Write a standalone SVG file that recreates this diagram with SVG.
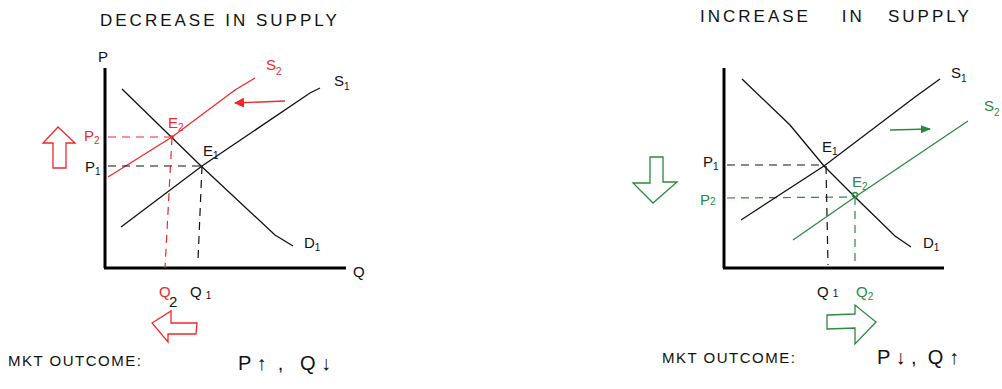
<svg xmlns="http://www.w3.org/2000/svg" width="1002" height="389" viewBox="0 0 1002 389">
<defs>
<style>
text{font-family:"Liberation Sans",Arial,sans-serif;fill:#111}
.t{font-size:17px;letter-spacing:3px}
.l{font-size:15px}
.o{font-size:15px;letter-spacing:1.5px}
.big{font-size:20px}
.s{font-size:10px}
.axis{stroke:#000;stroke-width:3;fill:none}
.ln{stroke:#111;stroke-width:1.3;fill:none}
.dk{stroke:#111;stroke-width:1.2;stroke-dasharray:8 6;fill:none}
.red{stroke:#f0282c;stroke-width:1.3;fill:none}
.rdash{stroke:#f0282c;stroke-width:1.2;stroke-dasharray:8 6;fill:none}
.grn{stroke:#2a8a3e;stroke-width:1.3;fill:none}
.gdash{stroke:#2a8a3e;stroke-width:1.2;stroke-dasharray:8 6;fill:none}
.rt{fill:#f0282c}
.gt{fill:#2a8a3e}
</style>
<marker id="ar" markerWidth="10" markerHeight="10" refX="9" refY="5" orient="auto" markerUnits="userSpaceOnUse"><path d="M0,0 L10,5 L0,10 Z" fill="#f0282c"/></marker>
<marker id="ag" markerWidth="10" markerHeight="10" refX="9" refY="5" orient="auto" markerUnits="userSpaceOnUse"><path d="M0,1 L10,5 L0,9 Z" fill="#2a8a3e"/></marker>
</defs>

<g id="left-title"><text class="t" x="100" y="26">DECREASE IN  SUPPLY</text></g>

<g id="left-axes">
<line class="axis" x1="105" y1="68" x2="105" y2="268"/>
<line class="axis" x1="104" y1="268" x2="346" y2="268"/>
<text class="l" x="98" y="62">P</text>
<text class="l" x="353" y="277">Q</text>
</g>

<g id="left-demand">
<polyline class="ln" points="122,89 200,165 275,235 293,246"/>
<text class="l" x="304" y="248">D<tspan class="s" dy="3">1</tspan></text>
</g>
<g id="left-s1">
<polyline class="ln" points="121,227 202,166 310,93 320,88"/>
<text class="l" x="334" y="86">S<tspan class="s" dy="4">1</tspan></text>
</g>
<g id="left-s2">
<polyline class="red" points="108,177 172,137 235,90 255,78"/>
<text class="l rt" x="266" y="70">S<tspan class="s" dy="5">2</tspan></text>
</g>

<g id="left-e2">
<circle cx="172" cy="137" r="1.8" fill="#f0282c"/>
<text class="l rt" x="168" y="128">E<tspan class="s" dy="3">2</tspan></text>
</g>
<g id="left-e1">
<text class="l" x="203" y="156">E<tspan class="s" dy="3">1</tspan></text>
</g>

<g id="left-p2"><text class="l rt" x="84" y="141">P<tspan class="s" dy="3">2</tspan></text></g>
<g id="left-p1"><text class="l" x="85" y="172">P<tspan class="s" dy="3">1</tspan></text></g>
<g id="left-q2"><text class="l rt" x="159" y="297">Q</text><text class="l" x="169" y="307">2</text></g>
<g id="left-q1"><text class="l" x="190" y="297">Q<tspan class="s" dx="4" dy="2">1</tspan></text></g>

<g id="connectors">
<line class="rdash" x1="108" y1="137" x2="172" y2="137"/>
<line class="dk" x1="108" y1="166" x2="202" y2="166"/>
<line class="rdash" x1="172" y1="137" x2="165" y2="268"/>
<line class="dk" x1="202" y1="166" x2="198" y2="260"/>
<line class="red" x1="285" y1="101" x2="235" y2="103" marker-end="url(#ar)"/>
<line class="dk" x1="727" y1="165" x2="824" y2="165"/>
<line class="gdash" x1="727" y1="198" x2="855" y2="197"/>
<line class="dk" x1="826" y1="166" x2="828" y2="265"/>
<line class="gdash" x1="855" y1="197" x2="855" y2="268"/>
<line class="grn" x1="890" y1="130" x2="930" y2="129" marker-end="url(#ag)"/>
</g>

<g id="left-up-arrow"><polygon class="red" points="58,127 43,143 53,143 53,168 66,168 66,143 75,143"/></g>
<g id="left-left-arrow"><polygon class="red" points="152,323 171,311 171,323 197,323 196,334 168,334 168,342"/></g>

<g id="left-outcome">
<text class="o" x="8" y="366">MKT OUTCOME:</text>
<text class="big" x="238" y="370" xml:space="preserve">P ↑  ,   Q ↓</text>
</g>

<g id="right-title"><text class="t" x="700" y="22" xml:space="preserve">INCREASE    IN   SUPPLY</text></g>

<g id="right-axes">
<line class="axis" x1="724" y1="68" x2="724" y2="268"/>
<line class="axis" x1="723" y1="268" x2="944" y2="268"/>
</g>
<g id="right-demand">
<polyline class="ln" points="742,79 790,125 824,166 855,197 895,236 911,247"/>
<text class="l" x="923" y="248">D<tspan class="s" dy="3">1</tspan></text>
</g>
<g id="right-s1">
<polyline class="ln" points="741,220 824,166 915,97 940,79"/>
<text class="l" x="951" y="78">S<tspan class="s" dy="4">1</tspan></text>
</g>
<g id="right-s2">
<polyline class="grn" points="793,240 855,197 968,121"/>
<text class="l gt" x="984" y="111">S<tspan class="s" dy="5">2</tspan></text>
</g>
<g id="right-e1"><text class="l" x="822" y="152">E<tspan class="s" dy="3">1</tspan></text></g>
<g id="right-e2">
<circle cx="855" cy="195" r="2.5" fill="none" stroke="#2a8a3e" stroke-width="1.3"/>
<text class="l gt" x="852" y="187">E<tspan class="s" dy="3">2</tspan></text>
</g>
<g id="right-p1"><text class="l" x="703" y="167">P<tspan class="s" dy="3">1</tspan></text></g>
<g id="right-p2"><text class="l gt" x="700" y="205">P<tspan class="s">2</tspan></text></g>
<g id="right-q1"><text class="l" x="817" y="297">Q<tspan class="s" dx="4">1</tspan></text></g>
<g id="right-q2"><text class="l gt" x="856" y="297">Q<tspan class="s" dy="3">2</tspan></text></g>

<g id="right-down-arrow"><polygon class="grn" points="650,157 663,157 663,182 677,182 653,203 633,183 650,183"/></g>
<g id="right-right-arrow"><polygon class="grn" points="827,315 855,314 855,305 876,322 855,344 855,328 827,329"/></g>

<g id="right-outcome">
<text class="o" x="662" y="363">MKT OUTCOME:</text>
<text class="big" x="877" y="364" xml:space="preserve">P ↓ ,  Q ↑</text>
</g>
</svg>
